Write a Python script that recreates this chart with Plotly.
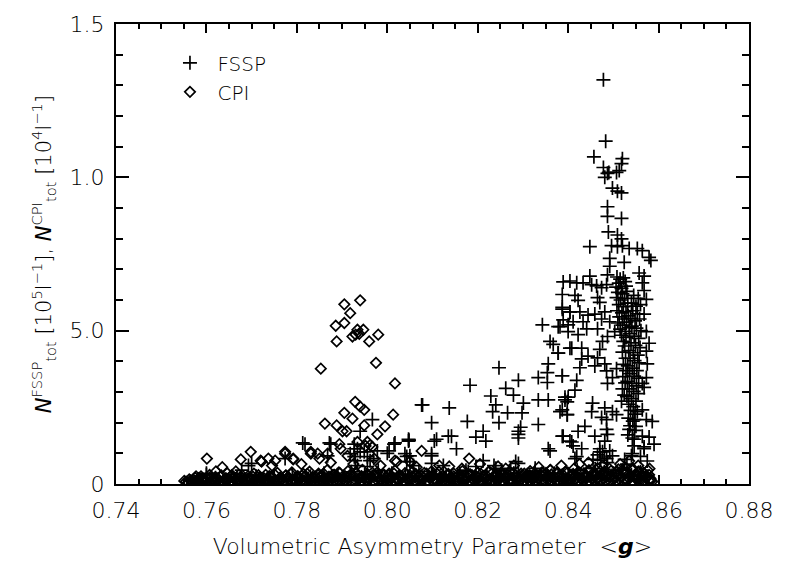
import plotly.graph_objects as go

# ---------------- data ----------------
# FSSP total number concentration (units of 1e5 / l), vs volumetric asymmetry parameter
fssp_points = [
    # upper column near 0.85
    (0.8478, 1.318), (0.8483, 1.118), (0.8457, 1.067), (0.8520, 1.061), (0.8518, 1.045),
    (0.8478, 1.032), (0.8513, 1.022), (0.8487, 1.013), (0.8507, 1.016), (0.8481, 1.000),
    (0.8490, 1.016), (0.8498, 0.965), (0.8509, 0.955), (0.8518, 0.949), (0.8487, 0.904),
    (0.8487, 0.873), (0.8518, 0.866), (0.8489, 0.822), (0.8509, 0.812), (0.8518, 0.799),
    (0.8448, 0.774), (0.8496, 0.777), (0.8509, 0.774), (0.8520, 0.777), (0.8535, 0.768),
    (0.8553, 0.768), (0.8564, 0.761), (0.8579, 0.739), (0.8583, 0.729), (0.8492, 0.736),
    (0.8524, 0.723), (0.8492, 0.710), (0.8487, 0.682), (0.8557, 0.688), (0.8568, 0.678),
    (0.8448, 0.678), (0.8389, 0.659), (0.8404, 0.662), (0.8419, 0.656), (0.8433, 0.656),
    (0.8452, 0.650), (0.8463, 0.646), (0.8474, 0.640), (0.8485, 0.650), (0.8387, 0.618),
    (0.8415, 0.615), (0.8422, 0.599), (0.8465, 0.608), (0.8470, 0.592), (0.8387, 0.570),
    (0.8404, 0.561), (0.8426, 0.561), (0.8444, 0.551), (0.8459, 0.554), (0.8481, 0.561),
    (0.8389, 0.535), (0.8411, 0.529), (0.8433, 0.529), (0.8474, 0.538), (0.8492, 0.529),
    (0.8378, 0.513), (0.8400, 0.497), (0.8422, 0.487), (0.8441, 0.506), (0.8465, 0.506),
    (0.8487, 0.481), (0.8503, 0.497), (0.8476, 0.465), (0.8378, 0.427), (0.8408, 0.443),
    (0.8430, 0.443), (0.8470, 0.439), (0.8444, 0.417), (0.8430, 0.408), (0.8481, 0.392),
    (0.8465, 0.411), (0.8387, 0.353), (0.8419, 0.338), (0.8426, 0.379), (0.8459, 0.385),
    (0.8485, 0.369), (0.8507, 0.376), (0.8498, 0.347), (0.8487, 0.328), (0.8415, 0.306),
    (0.8400, 0.283), (0.8393, 0.274), (0.8382, 0.236), (0.8398, 0.226), (0.8454, 0.264),
    (0.8452, 0.236), (0.8481, 0.248), (0.8498, 0.236), (0.8507, 0.226), (0.8485, 0.210),
    (0.8474, 0.217), (0.8437, 0.188), (0.8422, 0.172), (0.8387, 0.156), (0.8404, 0.140),
    (0.8411, 0.124), (0.8430, 0.115), (0.8419, 0.089), (0.8459, 0.156), (0.8485, 0.178),
    (0.8487, 0.162), (0.8481, 0.140), (0.8470, 0.115), (0.8476, 0.105), (0.8492, 0.108),
    (0.8498, 0.092), (0.8485, 0.083), (0.8540, 0.092), (0.8546, 0.146), (0.8564, 0.156),
    (0.8579, 0.153), (0.8568, 0.115), (0.8535, 0.178), (0.8550, 0.188), (0.8573, 0.210),
    (0.8586, 0.204), (0.8546, 0.210), (0.8553, 0.236), (0.8564, 0.242), (0.8568, 0.315),
    (0.8564, 0.328), (0.8573, 0.347), (0.8575, 0.392), (0.8573, 0.433), (0.8579, 0.459),
    (0.8573, 0.497), (0.8568, 0.554), (0.8573, 0.602), (0.8568, 0.631), (0.8564, 0.656),
    (0.8590, 0.130),
    # dense column, left lobe
    (0.8508, 0.675), (0.8515, 0.668), (0.8522, 0.672), (0.8512, 0.655), (0.8526, 0.660),
    (0.8506, 0.642), (0.8518, 0.638), (0.8528, 0.645), (0.8510, 0.625), (0.8520, 0.620),
    (0.8530, 0.628), (0.8507, 0.608), (0.8516, 0.600), (0.8525, 0.605), (0.8512, 0.585),
    (0.8522, 0.578), (0.8532, 0.590), (0.8508, 0.565), (0.8519, 0.558), (0.8528, 0.562),
    (0.8513, 0.545), (0.8524, 0.538), (0.8533, 0.548), (0.8510, 0.525), (0.8520, 0.518),
    (0.8529, 0.528), (0.8515, 0.505), (0.8526, 0.498), (0.8535, 0.510), (0.8518, 0.485),
    (0.8528, 0.478), (0.8522, 0.465),
    # dense column, right part
    (0.8545, 0.615), (0.8555, 0.605), (0.8540, 0.590), (0.8550, 0.580), (0.8560, 0.585),
    (0.8543, 0.565), (0.8553, 0.555), (0.8538, 0.540), (0.8548, 0.532), (0.8558, 0.538),
    (0.8541, 0.515), (0.8551, 0.508), (0.8561, 0.500), (0.8536, 0.490), (0.8546, 0.482),
    (0.8556, 0.475), (0.8539, 0.460), (0.8549, 0.452), (0.8559, 0.445), (0.8534, 0.435),
    (0.8544, 0.428), (0.8554, 0.420), (0.8537, 0.410), (0.8547, 0.402), (0.8557, 0.395),
    (0.8532, 0.385), (0.8542, 0.378), (0.8552, 0.370), (0.8536, 0.360), (0.8546, 0.352),
    (0.8556, 0.345), (0.8531, 0.335), (0.8541, 0.328), (0.8551, 0.320), (0.8535, 0.310),
    (0.8545, 0.302), (0.8555, 0.295), (0.8530, 0.285), (0.8540, 0.278), (0.8550, 0.270),
    (0.8534, 0.260), (0.8544, 0.252), (0.8538, 0.240), (0.8548, 0.228), (0.8533, 0.215),
    (0.8543, 0.205), (0.8537, 0.190), (0.8547, 0.175), (0.8532, 0.160), (0.8542, 0.150),
    (0.8525, 0.450), (0.8520, 0.430), (0.8527, 0.410), (0.8522, 0.390), (0.8528, 0.370),
    (0.8521, 0.350), (0.8526, 0.330), (0.8520, 0.310), (0.8524, 0.290), (0.8518, 0.270),
    # 0.80 - 0.84 rising cloud
    (0.8387, 0.576), (0.8404, 0.561), (0.8343, 0.519), (0.8382, 0.513), (0.8400, 0.519),
    (0.8360, 0.465), (0.8367, 0.455), (0.8378, 0.427), (0.8404, 0.443), (0.8247, 0.379),
    (0.8356, 0.392), (0.8354, 0.363), (0.8334, 0.347), (0.8387, 0.353), (0.8354, 0.331),
    (0.8290, 0.338), (0.8183, 0.322), (0.8262, 0.312), (0.8279, 0.290), (0.8229, 0.287),
    (0.8301, 0.264), (0.8240, 0.258), (0.8393, 0.283), (0.8398, 0.268), (0.8233, 0.236),
    (0.8266, 0.232), (0.8298, 0.232), (0.8334, 0.274), (0.8356, 0.274), (0.8387, 0.242),
    (0.8398, 0.226), (0.8078, 0.258), (0.8137, 0.248), (0.8098, 0.200), (0.8177, 0.204),
    (0.8247, 0.200), (0.8212, 0.172), (0.8290, 0.172), (0.8290, 0.162), (0.8295, 0.185),
    (0.8334, 0.194), (0.8142, 0.156), (0.8135, 0.156), (0.8109, 0.146), (0.8047, 0.146),
    (0.8218, 0.140), (0.8196, 0.153), (0.8153, 0.115), (0.8290, 0.150), (0.8389, 0.156),
    (0.8408, 0.137), (0.8356, 0.115), (0.8039, 0.099), (0.8098, 0.099), (0.8212, 0.076),
    (0.8290, 0.067), (0.8098, 0.067), (0.8050, 0.073), (0.8124, 0.060), (0.8174, 0.045),
    (0.8327, 0.051), (0.8273, 0.051), (0.8240, 0.051), (0.8360, 0.108), (0.8415, 0.083),
    (0.8470, 0.105), (0.8542, 0.099), (0.8546, 0.124), (0.8568, 0.121), (0.8236, 0.060),
    (0.8284, 0.073), (0.8327, 0.041), (0.8196, 0.057), (0.8179, 0.041), (0.8253, 0.045),
    (0.8465, 0.095), (0.8480, 0.088), (0.8472, 0.078), (0.8487, 0.070), (0.8455, 0.080),
    (0.8525, 0.080), (0.8530, 0.065), (0.8560, 0.090), (0.8575, 0.075),
    # 0.755 - 0.81 sparse low
    (0.7700, 0.067), (0.7678, 0.045), (0.7600, 0.035), (0.7774, 0.083), (0.7818, 0.130),
    (0.7875, 0.130), (0.7927, 0.115), (0.7940, 0.105), (0.7956, 0.089), (0.8015, 0.130),
    (0.8047, 0.140), (0.8098, 0.092), (0.8104, 0.140), (0.8043, 0.090), (0.7927, 0.089),
    (0.7868, 0.092), (0.7970, 0.083), (0.8000, 0.100), (0.7600, 0.030), (0.7693, 0.060),
    (0.8076, 0.258), (0.7967, 0.210), (0.7940, 0.172), (0.7813, 0.134), (0.7872, 0.134),
    (0.7927, 0.130), (0.8017, 0.134), (0.8048, 0.143), (0.7934, 0.115), (0.7918, 0.099),
    (0.7949, 0.105), (0.7978, 0.108), (0.8004, 0.108), (0.8050, 0.092), (0.7929, 0.076),
    (0.7962, 0.076), (0.8043, 0.073), (0.8058, 0.060), (0.7934, 0.060), (0.7956, 0.057),
    # near-zero band
    (0.7570, 0.010), (0.7620, 0.020), (0.7660, 0.015), (0.7710, 0.025), (0.7750, 0.020),
    (0.7790, 0.030), (0.7830, 0.025), (0.7860, 0.035), (0.7890, 0.030), (0.7920, 0.040),
    (0.7950, 0.030), (0.7980, 0.045), (0.8010, 0.035), (0.8040, 0.030), (0.8070, 0.040),
    (0.8100, 0.030), (0.8130, 0.025), (0.8160, 0.035), (0.8190, 0.020), (0.8220, 0.030),
    (0.8250, 0.025), (0.8280, 0.035), (0.8310, 0.030), (0.8340, 0.025), (0.8370, 0.035),
    (0.8400, 0.030), (0.8420, 0.045), (0.8440, 0.035), (0.8460, 0.050), (0.8480, 0.040),
    (0.8500, 0.035), (0.8520, 0.045), (0.8540, 0.030), (0.8560, 0.040), (0.8575, 0.025),
    (0.7585, 0.008), (0.7615, 0.012), (0.7645, 0.006), (0.7675, 0.014), (0.7705, 0.009),
    (0.7735, 0.016), (0.7765, 0.007), (0.7795, 0.013), (0.7825, 0.018), (0.7855, 0.010),
    (0.7885, 0.015), (0.7905, 0.022), (0.7935, 0.012), (0.7965, 0.018), (0.7995, 0.008),
    (0.8025, 0.015), (0.8055, 0.020), (0.8085, 0.011), (0.8115, 0.016), (0.8145, 0.008),
    (0.8175, 0.014), (0.8205, 0.019), (0.8235, 0.010), (0.8265, 0.016), (0.8295, 0.021),
    (0.8325, 0.012), (0.8355, 0.018), (0.8385, 0.009), (0.8415, 0.020), (0.8435, 0.014),
    (0.8455, 0.025), (0.8475, 0.018), (0.8495, 0.028), (0.8515, 0.020), (0.8535, 0.026),
    (0.8555, 0.016), (0.8572, 0.022),
]

# CPI total number concentration (units of 1e4 / l)
cpi_points = [
    # cluster near <g> = 0.79
    (0.7905, 0.586), (0.7940, 0.599), (0.7918, 0.557), (0.7905, 0.525), (0.7886, 0.516),
    (0.7934, 0.503), (0.7947, 0.503), (0.7923, 0.481), (0.7930, 0.487), (0.7938, 0.490),
    (0.7888, 0.465), (0.7960, 0.465), (0.7980, 0.487), (0.7975, 0.395), (0.7853, 0.376),
    (0.8017, 0.328), (0.7929, 0.268), (0.7940, 0.252), (0.7949, 0.242), (0.7905, 0.232),
    (0.7923, 0.213), (0.8013, 0.226), (0.7862, 0.197), (0.7888, 0.191), (0.7901, 0.172),
    (0.7910, 0.172), (0.7949, 0.191), (0.7995, 0.188), (0.7978, 0.162), (0.7894, 0.130),
    (0.7831, 0.099), (0.7850, 0.083), (0.7956, 0.137), (0.7962, 0.127), (0.8076, 0.108),
    (0.8017, 0.076), (0.7774, 0.105), (0.7752, 0.076), (0.7792, 0.083),
    # scattered low
    (0.7601, 0.083), (0.7698, 0.105), (0.7676, 0.080), (0.7722, 0.073), (0.7737, 0.083),
    (0.7774, 0.099), (0.7792, 0.080), (0.7831, 0.105), (0.7846, 0.099), (0.7868, 0.099),
    (0.7897, 0.115), (0.7912, 0.092), (0.7934, 0.137), (0.7952, 0.124), (0.7967, 0.121),
    (0.7971, 0.083), (0.8021, 0.073), (0.8050, 0.073), (0.8098, 0.041), (0.7665, 0.041),
    (0.7621, 0.041), (0.7577, 0.025), (0.8181, 0.083), (0.8137, 0.057), (0.8225, 0.041),
    (0.8245, 0.057), (0.8262, 0.050), (0.8360, 0.045), (0.8310, 0.030), (0.7720, 0.076),
    (0.7656, 0.029), (0.7551, 0.010), (0.7635, 0.055), (0.7745, 0.060), (0.7810, 0.065),
    (0.7875, 0.070), (0.7925, 0.065), (0.7985, 0.060), (0.8065, 0.055), (0.8115, 0.060),
    (0.8165, 0.050), (0.8205, 0.065), (0.8280, 0.060), (0.8335, 0.055), (0.8385, 0.060),
    (0.8425, 0.065), (0.8475, 0.060), (0.8515, 0.065), (0.8555, 0.060), (0.8580, 0.050),
    (0.8445, 0.070), (0.8535, 0.075),
    # dense band near zero
    (0.7555, 0.008), (0.7562, 0.015), (0.7568, 0.004), (0.7575, 0.020), (0.7581, 0.010),
    (0.7588, 0.025), (0.7594, 0.006), (0.7601, 0.018), (0.7607, 0.030), (0.7614, 0.012),
    (0.7620, 0.022), (0.7627, 0.005), (0.7633, 0.028), (0.7640, 0.015), (0.7646, 0.035),
    (0.7653, 0.008), (0.7659, 0.024), (0.7666, 0.012), (0.7672, 0.030), (0.7679, 0.018),
    (0.7685, 0.006), (0.7692, 0.026), (0.7698, 0.014), (0.7705, 0.034), (0.7711, 0.009),
    (0.7718, 0.022), (0.7724, 0.016), (0.7731, 0.030), (0.7737, 0.007), (0.7744, 0.025),
    (0.7750, 0.013), (0.7757, 0.036), (0.7763, 0.020), (0.7770, 0.009), (0.7776, 0.028),
    (0.7783, 0.016), (0.7789, 0.038), (0.7796, 0.012), (0.7802, 0.026), (0.7809, 0.006),
    (0.7815, 0.032), (0.7822, 0.018), (0.7828, 0.040), (0.7835, 0.011), (0.7841, 0.024),
    (0.7848, 0.034), (0.7854, 0.008), (0.7861, 0.020), (0.7867, 0.045), (0.7874, 0.015),
    (0.7880, 0.030), (0.7887, 0.007), (0.7893, 0.038), (0.7900, 0.022), (0.7906, 0.012),
    (0.7913, 0.042), (0.7919, 0.027), (0.7926, 0.008), (0.7932, 0.035), (0.7939, 0.018),
    (0.7945, 0.046), (0.7952, 0.012), (0.7958, 0.030), (0.7965, 0.022), (0.7971, 0.006),
    (0.7978, 0.038), (0.7984, 0.016), (0.7991, 0.028), (0.7997, 0.010), (0.8004, 0.034),
    (0.8010, 0.020), (0.8017, 0.044), (0.8023, 0.012), (0.8030, 0.026), (0.8036, 0.007),
    (0.8043, 0.032), (0.8049, 0.018), (0.8056, 0.040), (0.8062, 0.010), (0.8069, 0.024),
    (0.8075, 0.015), (0.8082, 0.036), (0.8088, 0.008), (0.8095, 0.022), (0.8101, 0.030),
    (0.8108, 0.012), (0.8114, 0.040), (0.8121, 0.018), (0.8127, 0.006), (0.8134, 0.028),
    (0.8140, 0.015), (0.8147, 0.034), (0.8153, 0.010), (0.8160, 0.024), (0.8166, 0.042),
    (0.8173, 0.014), (0.8179, 0.030), (0.8186, 0.007), (0.8192, 0.022), (0.8199, 0.036),
    (0.8205, 0.012), (0.8212, 0.026), (0.8218, 0.018), (0.8225, 0.040), (0.8231, 0.009),
    (0.8238, 0.030), (0.8244, 0.015), (0.8251, 0.035), (0.8257, 0.006), (0.8264, 0.022),
    (0.8270, 0.040), (0.8277, 0.012), (0.8283, 0.028), (0.8290, 0.018), (0.8296, 0.034),
    (0.8303, 0.008), (0.8309, 0.025), (0.8316, 0.042), (0.8322, 0.014), (0.8329, 0.030),
    (0.8335, 0.020), (0.8342, 0.038), (0.8348, 0.010), (0.8355, 0.028), (0.8361, 0.046),
    (0.8368, 0.016), (0.8374, 0.034), (0.8381, 0.008), (0.8387, 0.024), (0.8394, 0.040),
    (0.8400, 0.014), (0.8407, 0.030), (0.8413, 0.050), (0.8420, 0.020), (0.8426, 0.036),
    (0.8433, 0.009), (0.8439, 0.026), (0.8446, 0.045), (0.8452, 0.017), (0.8459, 0.032),
    (0.8465, 0.052), (0.8472, 0.012), (0.8478, 0.038), (0.8485, 0.024), (0.8491, 0.050),
    (0.8498, 0.015), (0.8504, 0.034), (0.8511, 0.048), (0.8517, 0.020), (0.8524, 0.040),
    (0.8530, 0.012), (0.8537, 0.030), (0.8543, 0.050), (0.8550, 0.022), (0.8556, 0.040),
    (0.8563, 0.014), (0.8569, 0.032), (0.8576, 0.045), (0.8582, 0.018), (0.8586, 0.008),
    (0.7580, 0.002), (0.7610, 0.004), (0.7640, 0.002), (0.7670, 0.005), (0.7700, 0.003),
    (0.7730, 0.002), (0.7760, 0.005), (0.7790, 0.003), (0.7820, 0.002), (0.7850, 0.004),
    (0.7880, 0.003), (0.7910, 0.005), (0.7940, 0.002), (0.7970, 0.004), (0.8000, 0.003),
    (0.8030, 0.002), (0.8060, 0.005), (0.8090, 0.003), (0.8120, 0.004), (0.8150, 0.002),
    (0.8180, 0.005), (0.8210, 0.003), (0.8240, 0.004), (0.8270, 0.002), (0.8300, 0.005),
    (0.8330, 0.003), (0.8360, 0.004), (0.8390, 0.002), (0.8420, 0.005), (0.8450, 0.003),
    (0.8480, 0.004), (0.8510, 0.002), (0.8540, 0.005), (0.8570, 0.003),
    (0.7565, 0.012), (0.7577, 0.008), (0.7589, 0.016), (0.7601, 0.010), (0.7613, 0.014),
    (0.7625, 0.018), (0.7637, 0.009), (0.7649, 0.015), (0.7661, 0.020), (0.7673, 0.011),
    (0.7685, 0.016), (0.7697, 0.021), (0.7709, 0.012), (0.7721, 0.018), (0.7733, 0.014),
    (0.7745, 0.022), (0.7757, 0.010), (0.7769, 0.017), (0.7781, 0.023), (0.7793, 0.013),
    (0.7805, 0.019), (0.7817, 0.024), (0.7829, 0.012), (0.7841, 0.018), (0.7853, 0.025),
    (0.7865, 0.014), (0.7877, 0.021), (0.7889, 0.026), (0.7901, 0.015), (0.7913, 0.022),
    (0.7925, 0.027), (0.7937, 0.016), (0.7949, 0.023), (0.7961, 0.018), (0.7973, 0.025),
    (0.7985, 0.013), (0.7997, 0.020), (0.8009, 0.026), (0.8021, 0.015), (0.8033, 0.022),
    (0.8045, 0.017), (0.8057, 0.024), (0.8069, 0.012), (0.8081, 0.019), (0.8093, 0.025),
    (0.8105, 0.014), (0.8117, 0.021), (0.8129, 0.016), (0.8141, 0.023), (0.8153, 0.012),
    (0.8165, 0.019), (0.8177, 0.024), (0.8189, 0.014), (0.8201, 0.020), (0.8213, 0.026),
    (0.8225, 0.015), (0.8237, 0.022), (0.8249, 0.017), (0.8261, 0.025), (0.8273, 0.013),
    (0.8285, 0.020), (0.8297, 0.026), (0.8309, 0.016), (0.8321, 0.023), (0.8333, 0.018),
    (0.8345, 0.026), (0.8357, 0.015), (0.8369, 0.022), (0.8381, 0.028), (0.8393, 0.017),
    (0.8405, 0.024), (0.8417, 0.030), (0.8429, 0.019), (0.8441, 0.026), (0.8453, 0.032),
    (0.8465, 0.021), (0.8477, 0.028), (0.8489, 0.034), (0.8501, 0.022), (0.8513, 0.030),
    (0.8525, 0.036), (0.8537, 0.024), (0.8549, 0.032), (0.8561, 0.026), (0.8573, 0.020),
    (0.8583, 0.012),
    (0.7571, 0.006), (0.7583, 0.004), (0.7595, 0.008), (0.7607, 0.005), (0.7619, 0.009),
    (0.7631, 0.006), (0.7643, 0.010), (0.7655, 0.004), (0.7667, 0.008), (0.7679, 0.006),
    (0.7691, 0.010), (0.7703, 0.005), (0.7715, 0.009), (0.7727, 0.007), (0.7739, 0.011),
    (0.7751, 0.005), (0.7763, 0.009), (0.7775, 0.006), (0.7787, 0.010), (0.7799, 0.007),
    (0.7811, 0.011), (0.7823, 0.005), (0.7835, 0.009), (0.7847, 0.006), (0.7859, 0.010),
    (0.7871, 0.007), (0.7883, 0.011), (0.7895, 0.005), (0.7907, 0.009), (0.7919, 0.006),
    (0.7931, 0.010), (0.7943, 0.007), (0.7955, 0.011), (0.7967, 0.005), (0.7979, 0.009),
    (0.7991, 0.006), (0.8003, 0.010), (0.8015, 0.007), (0.8027, 0.011), (0.8039, 0.005),
    (0.8051, 0.009), (0.8063, 0.006), (0.8075, 0.010), (0.8087, 0.007), (0.8099, 0.011),
    (0.8111, 0.005), (0.8123, 0.009), (0.8135, 0.006), (0.8147, 0.010), (0.8159, 0.007),
    (0.8171, 0.011), (0.8183, 0.005), (0.8195, 0.009), (0.8207, 0.006), (0.8219, 0.010),
    (0.8231, 0.007), (0.8243, 0.011), (0.8255, 0.005), (0.8267, 0.009), (0.8279, 0.006),
    (0.8291, 0.010), (0.8303, 0.007), (0.8315, 0.011), (0.8327, 0.005), (0.8339, 0.009),
    (0.8351, 0.006), (0.8363, 0.010), (0.8375, 0.007), (0.8387, 0.011), (0.8399, 0.005),
    (0.8411, 0.009), (0.8423, 0.006), (0.8435, 0.010), (0.8447, 0.007), (0.8459, 0.011),
    (0.8471, 0.005), (0.8483, 0.009), (0.8495, 0.006), (0.8507, 0.010), (0.8519, 0.007),
    (0.8531, 0.011), (0.8543, 0.005), (0.8555, 0.009), (0.8567, 0.006), (0.8579, 0.010),
    (0.7559, 0.004), (0.7571, 0.014), (0.7583, 0.019), (0.7595, 0.013), (0.7607, 0.021),
    (0.7619, 0.016), (0.7631, 0.024), (0.7643, 0.019), (0.7655, 0.026), (0.7667, 0.021),
    (0.7679, 0.028), (0.7691, 0.017), (0.7703, 0.024), (0.7715, 0.029), (0.7727, 0.019),
    (0.7739, 0.026), (0.7751, 0.031), (0.7763, 0.021), (0.7775, 0.027), (0.7787, 0.032),
    (0.7799, 0.022), (0.7811, 0.028), (0.7823, 0.033), (0.7835, 0.023), (0.7847, 0.029),
    (0.7859, 0.034), (0.7871, 0.024), (0.7883, 0.030), (0.7895, 0.035), (0.7907, 0.025),
    (0.7919, 0.031), (0.7931, 0.036), (0.7943, 0.026), (0.7955, 0.032), (0.7967, 0.037),
    (0.7979, 0.027), (0.7991, 0.033), (0.8003, 0.028), (0.8015, 0.034), (0.8027, 0.029),
    (0.8039, 0.035), (0.8051, 0.027), (0.8063, 0.033), (0.8075, 0.028), (0.8087, 0.034),
    (0.8099, 0.026), (0.8111, 0.032), (0.8123, 0.027), (0.8135, 0.033), (0.8147, 0.025),
    (0.8159, 0.031), (0.8171, 0.026), (0.8183, 0.032), (0.8195, 0.027), (0.8207, 0.033),
    (0.8219, 0.028), (0.8231, 0.034), (0.8243, 0.029), (0.8255, 0.035), (0.8267, 0.030),
    (0.8279, 0.036), (0.8291, 0.028), (0.8303, 0.034), (0.8315, 0.029), (0.8327, 0.035),
    (0.8339, 0.030), (0.8351, 0.036), (0.8363, 0.031), (0.8375, 0.037), (0.8387, 0.032),
    (0.8399, 0.038), (0.8411, 0.033), (0.8423, 0.040), (0.8435, 0.035), (0.8447, 0.041),
    (0.8459, 0.036), (0.8471, 0.042), (0.8483, 0.037), (0.8495, 0.043), (0.8507, 0.038),
    (0.8519, 0.044), (0.8531, 0.039), (0.8543, 0.045), (0.8555, 0.040), (0.8567, 0.036),
    (0.8579, 0.030),
]

fssp_x = [p[0] for p in fssp_points]
fssp_y = [p[1] for p in fssp_points]
cpi_x = [p[0] for p in cpi_points]
cpi_y = [p[1] for p in cpi_points]

y_tickvals = [0, 0.5, 1.0, 1.5]
y_ticktext = ["0", "5.0", "1.0", "1.5"]
x_tickvals = [0.74, 0.76, 0.78, 0.80, 0.82, 0.84, 0.86, 0.88]
x_ticktext = ["0.74", "0.76", "0.78", "0.80", "0.82", "0.84", "0.86", "0.88"]

FONT = "DejaVu Sans"
WEIGHT = 300

fig = go.Figure()
fig.add_trace(go.Scatter(
    x=cpi_x, y=cpi_y, mode="markers", name="CPI", legendgroup="b", legendrank=2,
    marker=dict(symbol="diamond-open", size=8, color="black", line=dict(width=1.7, color="black")),
))
fig.add_trace(go.Scatter(
    x=fssp_x, y=fssp_y, mode="markers", name="FSSP", legendgroup="a", legendrank=1,
    marker=dict(symbol="cross-thin-open", size=10, color="black", line=dict(width=1.7, color="black")),
))

fig.update_layout(
    width=785, height=567,
    margin=dict(l=116, r=29, t=15, b=81),
    paper_bgcolor="white", plot_bgcolor="white",
    font=dict(family=FONT, size=21, color="black", weight=WEIGHT),
    showlegend=True,
    legend=dict(x=0.0734, y=0.958, xanchor="left", yanchor="top", bgcolor="rgba(0,0,0,0)",
                font=dict(family=FONT, size=20, weight=WEIGHT), traceorder="grouped",
                tracegroupgap=0, itemwidth=45),
    xaxis=dict(
        range=[0.74, 0.88], tickvals=x_tickvals, ticktext=x_ticktext,
        ticks="inside", ticklen=9, tickwidth=1.5, tickcolor="black",
        minor=dict(dtick=0.005, tick0=0.74, ticks="inside", ticklen=5, tickwidth=1.5, tickcolor="black"),
        showline=True, linecolor="black", linewidth=2, mirror="allticks",
        showgrid=False, zeroline=False, ticklabelstandoff=6,
        tickfont=dict(family=FONT, size=22, weight=WEIGHT),
        title=dict(text="Volumetric Asymmetry Parameter  &lt;<b><i>g</i></b>&gt;",
                   font=dict(family=FONT, size=22, weight=WEIGHT), standoff=16),
    ),
    yaxis=dict(
        range=[0, 1.5], tickvals=y_tickvals, ticktext=y_ticktext,
        ticks="inside", ticklen=13, tickwidth=1.5, tickcolor="black",
        minor=dict(dtick=0.1, tick0=0, ticks="inside", ticklen=7, tickwidth=1.5, tickcolor="black"),
        showline=True, linecolor="black", linewidth=2, mirror="allticks",
        showgrid=False, zeroline=False, ticklabelstandoff=5,
        tickfont=dict(family=FONT, size=22, weight=WEIGHT),
        title=dict(text="<i>N</i><sup>FSSP</sup><sub>tot</sub> [10<sup>5</sup>l<sup>−1</sup>], "
                        "<i>N</i><sup>CPI</sup><sub>tot</sub> [10<sup>4</sup>l<sup>−1</sup>]",
                   font=dict(family=FONT, size=21, weight=WEIGHT), standoff=12),
    ),
)

fig.write_html("out.html")
